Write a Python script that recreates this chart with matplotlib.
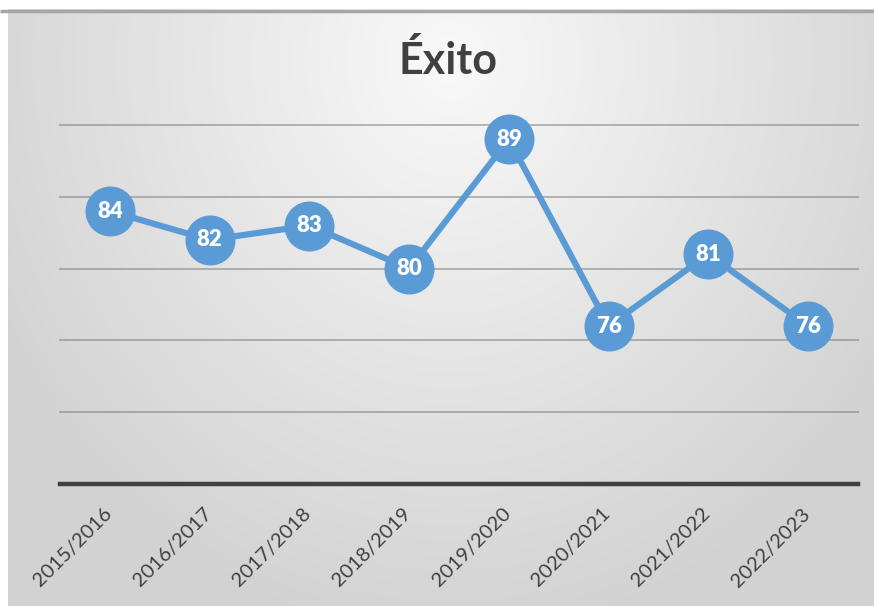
import numpy as np
import matplotlib
matplotlib.use("Agg")
import matplotlib.pyplot as plt
from matplotlib.transforms import ScaledTranslation

# data
seasons = ["2015/2016", "2016/2017", "2017/2018", "2018/2019",
           "2019/2020", "2020/2021", "2021/2022", "2022/2023"]
exito = [84, 82, 83, 80, 89, 76, 81, 76]
title = "Éxito"

W, H, DPI = 874, 606, 100
blue = "#5B9BD5"
font = ["Lato", "DejaVu Sans"]

fig = plt.figure(figsize=(W / DPI, H / DPI), dpi=DPI)
fig.patch.set_facecolor("white")

# gradient background (chart area starts a few px in from the top/left)
bg = fig.add_axes([0, 0, 1, 1], zorder=0)
bg.set_xlim(0, W)
bg.set_ylim(H, 0)
bg.axis("off")
xx, yy = np.meshgrid(np.arange(W), np.arange(H))
d = np.sqrt(((xx - 450) / 520.0) ** 2 + ((yy - 60) / 580.0) ** 2)
shade = 0.975 - 0.15 * np.clip(d, 0, 1)
img = np.dstack([shade] * 3)
img[:9, :, :] = 1.0
img[:, :8, :] = 1.0
bg.imshow(img, extent=(0, W, H, 0), aspect="auto", interpolation="bilinear")
bg.plot([0, W], [10.5, 10.5], color="#a6a6a6", lw=2.5, solid_capstyle="butt")

ax = fig.add_axes([60 / W, 122 / H, 798 / W, (484 - 125) / H], zorder=1)
ax.patch.set_alpha(0)
x = np.arange(len(seasons))
ax.set_xlim(-0.5, len(seasons) - 0.5)
ax.set_ylim(65, 90)

for g in [70, 75, 80, 85, 90]:
    ax.axhline(g, color="#808080", alpha=0.55, lw=1.4, zorder=1, clip_on=False)
ax.axhline(65, color="#404040", lw=3.2, zorder=2, clip_on=False)

ax.plot(x, exito, color=blue, lw=4.5, zorder=3, solid_capstyle="round",
        marker="o", markersize=35, markerfacecolor=blue,
        markeredgecolor=blue, clip_on=False)
for xi, v in zip(x, exito):
    ax.text(xi, v, str(v), ha="center", va="center", color="white",
            fontsize=16, fontweight="heavy", family=font, zorder=4)

for s in ax.spines.values():
    s.set_visible(False)
ax.set_yticks([])
ax.set_xticks(x)
ax.set_xticklabels(seasons, rotation=45, ha="right", va="top",
                   fontsize=14.5, color="#404040", family=font)
ax.tick_params(axis="x", length=0, pad=0)
off = ScaledTranslation(5 / DPI, -21 / DPI, fig.dpi_scale_trans)
for lbl in ax.get_xticklabels():
    lbl.set_transform(lbl.get_transform() + off)

fig.text(448 / W, 1 - 60 / H, title, ha="center", va="center",
         fontsize=31, fontweight="bold", color="#404040", family=font)

fig.savefig("out.png", dpi=DPI)
